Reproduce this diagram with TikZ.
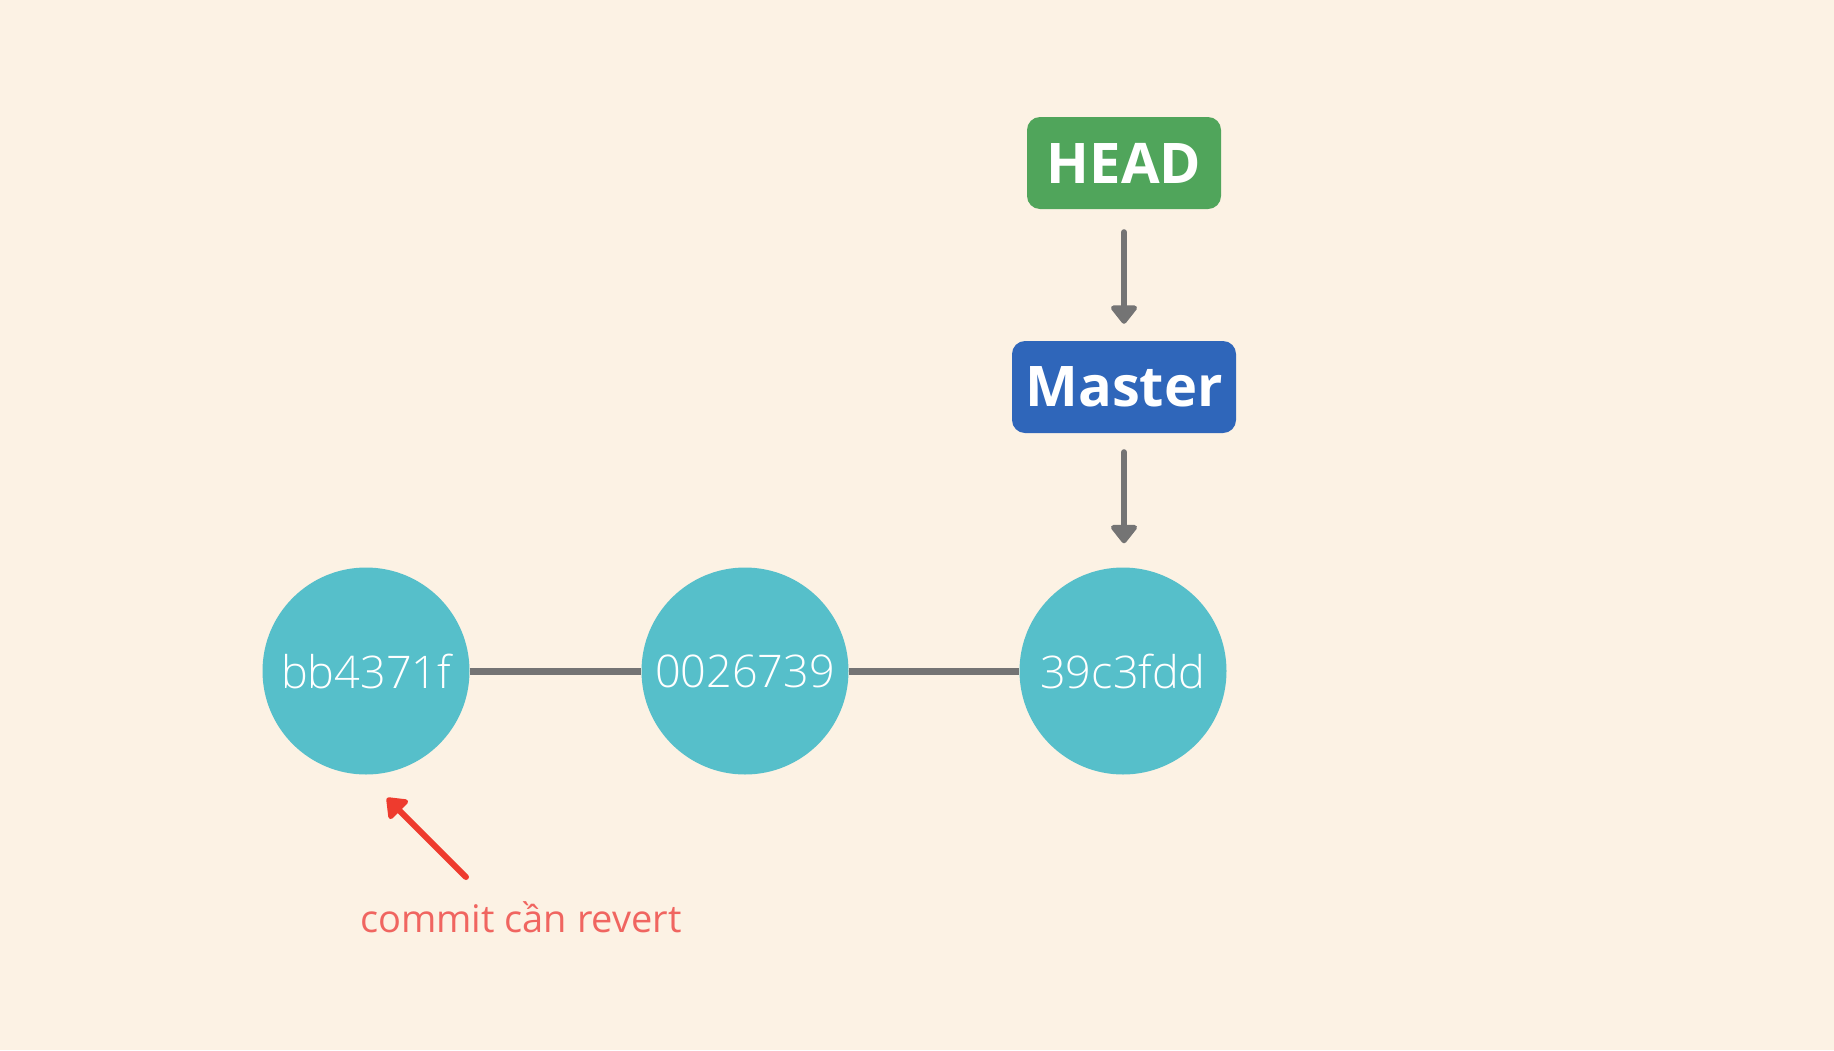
\documentclass[tikz,border=0pt]{standalone}
\usepackage{fontspec}
\setmainfont{Open Sans}
\newfontfamily\lightfont{Open Sans Light}
\usetikzlibrary{arrows.meta}
\definecolor{bgc}{HTML}{FCF2E4}
\definecolor{headc}{HTML}{50A55B}
\definecolor{masterc}{HTML}{2F66BA}
\definecolor{commitc}{HTML}{56BFCA}
\definecolor{linec}{HTML}{747474}
\definecolor{redarr}{HTML}{EE3B2E}
\definecolor{redtxt}{HTML}{F06560}
\tikzset{
  refbox/.style={rounded corners=13pt, inner sep=0pt, text=white, font=\bfseries\fontsize{56}{60}\selectfont, minimum height=92pt},
  commit/.style={circle, fill=commitc, minimum size=207pt, inner sep=0pt, text=white, font=\lightfont\fontsize{45}{50}\selectfont},
  ptr/.style={draw=linec, line width=6pt, line cap=round, -{Triangle[width=30pt,length=20pt,round]}},
  link/.style={draw=linec, line width=7pt},
}
\begin{document}
\begin{tikzpicture}[x=1pt,y=-1pt]
\useasboundingbox (0,0) rectangle (1834,1050);
\fill[bgc] (0,0) rectangle (1834,1050);
\node[refbox, fill=headc, minimum width=194pt] (head) at (1124,163) {HEAD};
\node[refbox, fill=masterc, minimum width=224pt] (master) at (1124,387) {Master};
\node[commit] (c1) at (366,671) {bb4371f};
\node[commit] (c2) at (745,671) {0026739};
\node[commit] (c3) at (1123,671) {39c3fdd};
\draw[link] (c1) -- (c2);
\draw[link] (c2) -- (c3);
\draw[ptr, shorten <=23pt, shorten >=17pt] (head.south) -- (master.north);
\draw[ptr, shorten <=19pt, shorten >=24pt] (master.south) -- (master.south |- c3.north);
\node[text=redtxt, font=\fontsize{38}{44}\selectfont, anchor=base] (lbl) at (521,932) {commit cần revert};
\coordinate (tail) at (466,877);
\coordinate (tip) at (387,798);
\draw[draw=redarr, line width=6pt, line cap=round, -{Triangle[width=30pt,length=20pt,round]}] (tail) -- (tip);
\end{tikzpicture}
\end{document}
